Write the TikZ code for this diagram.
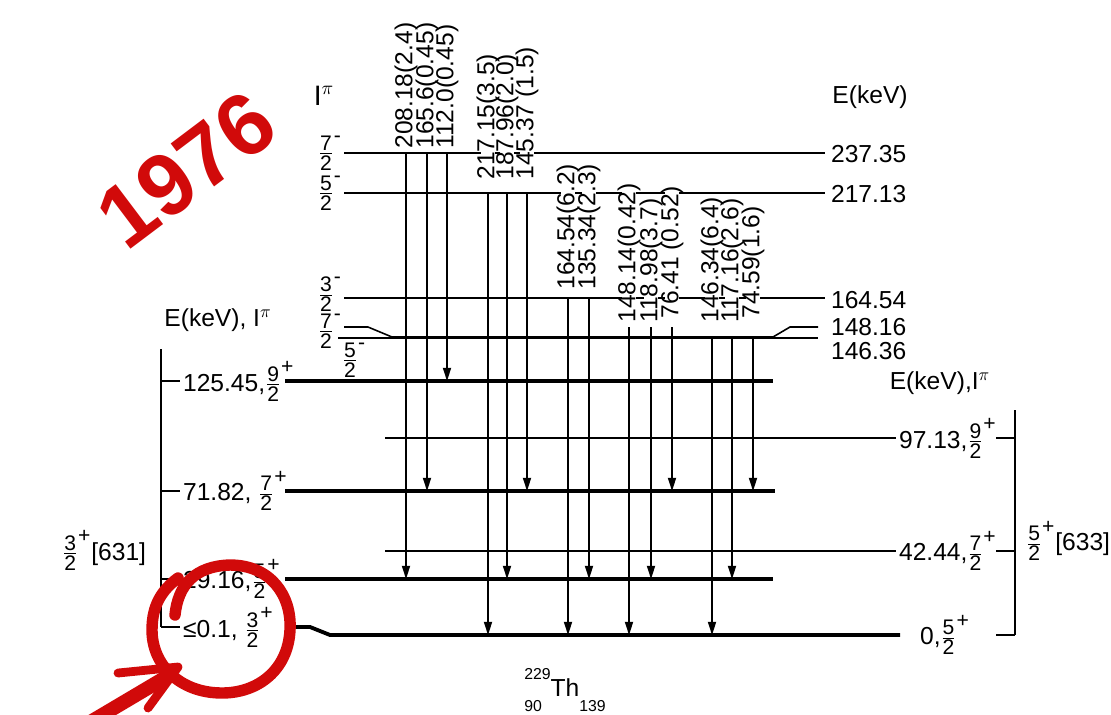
\documentclass[tikz,border=0pt]{standalone}
\usepackage{fontspec}
\setmainfont{Liberation Sans}
\usepackage{amsmath}
\usetikzlibrary{arrows.meta}
\definecolor{markred}{HTML}{D10A0A}
\newcommand{\sfs}{\fontsize{12}{12}\selectfont}
\newcommand{\spin}[3]{\ensuremath{{\genfrac{}{}{0.6pt}{1}{\hbox{\sfs #1}}{\hbox{\sfs #2}}}^{\hbox{\sfs #3}}}}
\tikzset{
  lev/.style={line width=0.9pt},
  band/.style={line width=2.2pt},
  gam/.style={line width=0.9pt, -{Triangle[length=7.5pt,width=4.6pt]}},
  glab/.style={rotate=90, anchor=west, fill=white, inner sep=0.6pt, text height=0.72em, text depth=0pt},
  elab/.style={anchor=west, inner sep=1pt},
  jlab/.style={anchor=east, inner sep=1pt},
  redpen/.style={draw=markred, line width=6.5pt, line cap=round, line join=round},
}
\begin{document}
\begin{tikzpicture}[x=0.02cm, y=-0.02cm, font=\fontsize{14}{15}\selectfont]
\useasboundingbox (0,0) rectangle (1111,714);

% headers
\node[font=\fontsize{16}{16}\selectfont] (ipi) at (324,96) {I\textsuperscript{$\pi$}};
\node (ekev) at (870,97) {E(keV)};
\node (lhead) at (218,320) {E(keV), I\textsuperscript{$\pi$}};
\node (rhead) at (940,383) {E(keV),I\textsuperscript{$\pi$}};

% negative parity levels
\node[jlab] (s237) at (344,153) {\spin{7}{2}{-}};
\node[jlab] (s217) at (344,193) {\spin{5}{2}{-}};
\node[jlab] (s164) at (344,294) {\spin{3}{2}{-}};
\node[jlab] (s148) at (344,331) {\spin{7}{2}{-}};
\node[inner sep=1pt] (s146) at (354,360) {\spin{5}{2}{-}};
\draw[lev] (s237.east) -- (825,153);
\draw[lev] (s217.east) -- (825,193);
\draw[lev] (s164.east |- 0,298) -- (825,298);
\draw[lev] (338,338) -- (818,338);
\draw[lev] (s148.east |- 0,327) -- (368,327) -- (392,337) -- (773,337) -- (790,327) -- (818,327);
\node[elab] (e237) at (829,154) {237.35};
\node[elab] (e217) at (829,194) {217.13};
\node[elab] (e164) at (829,300) {164.54};
\node[elab] (e148) at (829,327) {148.16};
\node[elab] (e146) at (829,351) {146.36};

% 3/2+[631] band
\node[elab] (l125) at (181,381) {125.45,\spin{9}{2}{+}};
\node[elab] (l71) at (181,491) {71.82, \spin{7}{2}{+}};
\node[elab] (l29) at (181,579) {29.16,\spin{5}{2}{+}};
\node[elab] (l0) at (181,627) {≤0.1, \spin{3}{2}{+}};
\draw[band] (285,381) -- (773,381);
\draw[band] (285,491) -- (775,491);
\draw[band] (285,579) -- (773,579);
\draw[band] (289,627) -- (310,627) -- (330,635) -- (900,635);
\draw[lev] (161,349) -- (161,627);
\foreach \ty in {381,491,579,627}
  \draw[lev] (161,\ty) -- (180,\ty);
\node[anchor=west] (b631) at (56,550) {\spin{3}{2}{+}[631]};

% 5/2+[633] band
\node[elab] (r97) at (897,438) {97.13,\spin{9}{2}{+}};
\node[elab] (r42) at (897,551) {42.44,\spin{7}{2}{+}};
\node[elab] (r0) at (918,635) {0,\spin{5}{2}{+}};
\draw[lev] (385,438) -- (896,438);
\draw[lev] (385,551) -- (896,551);
\draw[lev] (1015,410) -- (1015,635);
\foreach \ty in {438,551,635}
  \draw[lev] (996,\ty) -- (1015,\ty);
\node[anchor=west] (b633) at (1020,541) {\spin{5}{2}{+}[633]};

% gamma transitions
\foreach \gx/\gy/\gt/\gb/\gl in {
  406/153/579/150/{208.18(2.4)},
  427/153/491/150/{165.6(0.45)},
  447/153/381/150/{112.0(0.45)},
  488/193/635/181/{217.15(3.5)},
  507/193/579/181/{187.96(2.0)},
  527/193/491/181/{145.37 (1.5)},
  568/298/635/291/{164.54(6.2)},
  589/298/579/291/{135.34(2.3)},
  629/327/635/324/{148.14(0.42)},
  651/327/579/324/{118.98(3.7)},
  672/327/491/320/{76.41 (0.52)},
  712/337/635/324/{146.34(6.4)},
  732/337/579/324/{117.16(2.6)},
  753/337/491/320/{74.59(1.6)}} {
  \node[glab] (g\gx) at (\gx,\gb) {\gl};
  \coordinate (a\gx) at (\gx,\gy);
  \coordinate (b\gx) at (\gx,\gt);
  \draw[gam] (a\gx) -- (b\gx);
}

\node (nuc) at (565,690) {\rlap{\raisebox{-1.2ex}{\small 90}}\raisebox{1.3ex}{\small 229}Th\raisebox{-1.2ex}{\small 139}};

% red marks
\node[rotate=37, text=markred, font=\fontsize{50}{50}\selectfont\bfseries] (year) at (186,170) {1976};
\draw[redpen] (175,615) .. controls (178,585) and (195,566) .. (230,565)
  .. controls (270,565) and (292,595) .. (290,630)
  .. controls (288,670) and (258,693) .. (222,693)
  .. controls (180,693) and (152,665) .. (152,630)
  .. controls (152,605) and (162,590) .. (178,578);
\draw[draw=markred, line width=8pt] (60,740) -- (168,676);
\draw[redpen, line width=5pt] (118,673) -- (178,667) -- (148,708);
\end{tikzpicture}
\end{document}
